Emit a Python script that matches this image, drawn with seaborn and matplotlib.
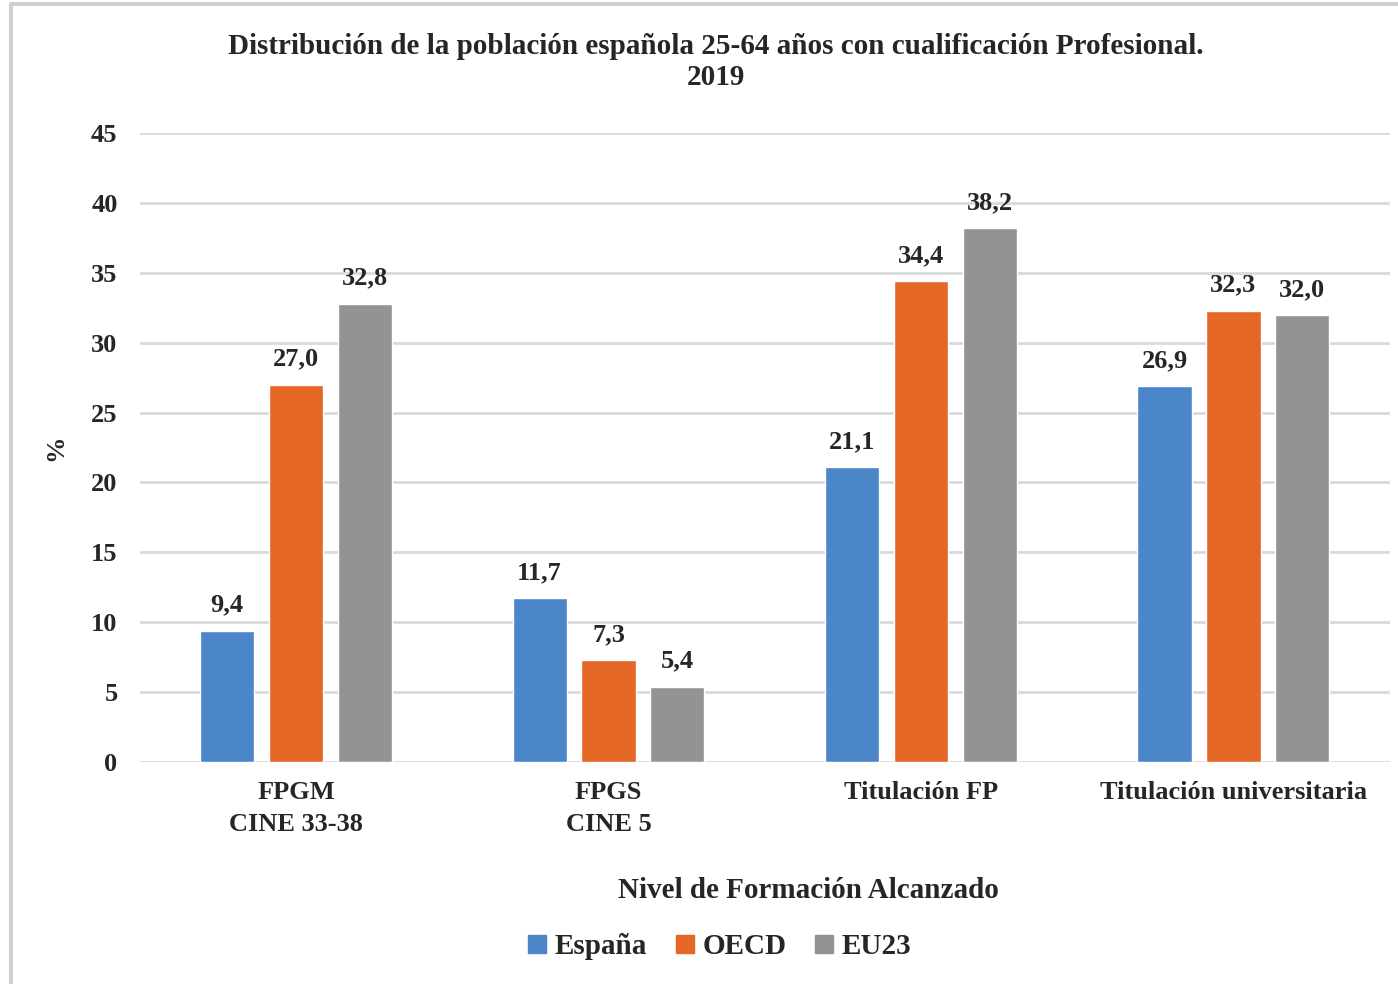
import matplotlib
matplotlib.use("Agg")
import matplotlib.pyplot as plt
from matplotlib.lines import Line2D
import seaborn as sns
import pandas as pd

categories = ["FPGM\nCINE 33-38", "FPGS\nCINE 5", "Titulación FP", "Titulación universitaria"]
series_names = ["España", "OECD", "EU23"]
espana = [9.4, 11.7, 21.1, 26.9]
oecd = [27.0, 7.3, 34.4, 32.3]
eu23 = [32.8, 5.4, 38.2, 32.0]
colors = ["#4A86C8", "#E46726", "#939393"]
yticks = [0, 5, 10, 15, 20, 25, 30, 35, 40, 45]

rows = []
for name, vals in zip(series_names, [espana, oecd, eu23]):
    for c, v in zip(categories, vals):
        rows.append({"cat": c, "serie": name, "val": v})
df = pd.DataFrame(rows)

sns.set_theme(style="white")
plt.rcParams["font.family"] = ["Liberation Serif", "DejaVu Serif"]
plt.rcParams["font.weight"] = "bold"

fig = plt.figure(figsize=(13.98, 9.84), dpi=100)
ax = fig.add_axes([0.1, 0.2256, 0.894, 0.6392])

sns.barplot(data=df, x="cat", y="val", hue="serie", order=categories,
            hue_order=series_names, palette=colors, width=0.66, gap=0.21,
            saturation=1, ax=ax, legend=False, zorder=3)

for cont in ax.containers:
    labels = [f"{v:.1f}".replace(".", ",") for v in cont.datavalues]
    ax.bar_label(cont, labels=labels, padding=10, fontsize=19, fontweight="bold",
                 family="Liberation Serif")

ax.set_ylim(0, 45)
ax.set_xlim(-0.5, 3.5)
ax.set_yticks(yticks)
ax.set_yticklabels([str(t) for t in yticks], fontsize=19, fontweight="bold")
ax.tick_params(axis="x", labelsize=19, length=0, pad=14)
ax.tick_params(axis="y", length=0, pad=16)
for lbl in ax.get_xticklabels():
    lbl.set_fontweight("bold")
    lbl.set_linespacing(1.45)
ax.yaxis.grid(True, color="#d9d9d9", linewidth=2, zorder=0)
ax.set_axisbelow(True)
for s in ax.spines.values():
    s.set_visible(False)
ax.set_xlabel("")
ax.set_ylabel("%", fontsize=19, fontweight="bold", labelpad=17)

fig.text(0.512, 0.937, "Distribución de la población española 25-64 años con cualificación Profesional.\n2019",
         ha="center", va="center", fontsize=21, fontweight="bold", linespacing=1.2)
fig.text(0.578, 0.0955, "Nivel de Formación Alcanzado", ha="center", va="center",
         fontsize=21, fontweight="bold")

handles = [Line2D([], [], marker="s", linestyle="", markersize=13, color=c) for c in colors]
fig.legend(handles, series_names, loc="center", bbox_to_anchor=(0.515, 0.038), ncol=3,
           frameon=False, prop={"family": "Liberation Serif", "weight": "bold", "size": 21},
           handlelength=0.6, handletextpad=0.3, columnspacing=1.0)

# outer chart frame
fig.add_artist(Line2D([0.008, 0.008], [0, 0.996], color="#d0d0d0", linewidth=3, transform=fig.transFigure))
fig.add_artist(Line2D([0.008, 1.0], [0.996, 0.996], color="#d0d0d0", linewidth=3, transform=fig.transFigure))

fig.savefig("out.png", dpi=100)
